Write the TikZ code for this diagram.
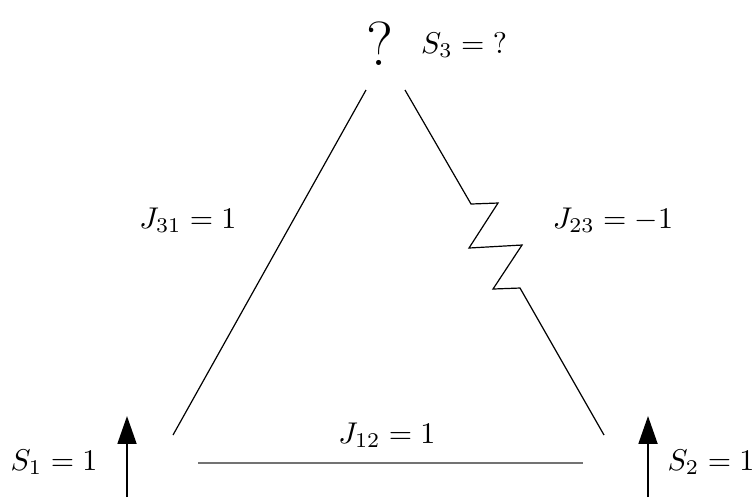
\documentclass[tikz,border=0pt]{standalone}
\usetikzlibrary{arrows.meta}
\begin{document}
\begin{tikzpicture}[x=0.33333pt,y=-0.33333pt,
  bond/.style={draw=black,line width=0.4pt},
  bondgray/.style={draw=black!55,line width=0.45pt},
  spin/.style={line width=0.7pt,-{Triangle[length=9.3pt,width=6.3pt]}},
  lab/.style={anchor=base,inner sep=0pt}]
\useasboundingbox (0,0) rectangle (756,497);
% spin labels
\node[lab] (q) at (380,65) {\huge ?};
\node[lab] (s3) at (464,53) {$S_3 = {?}$};
\node[lab] (s1) at (54,470) {$S_1 = 1$};
\node[lab] (s2) at (711,470) {$S_2 = 1$};
% coupling labels
\node[lab] (j31) at (188,228) {$J_{31} = 1$};
\node[lab] (j23) at (613,228) {$J_{23} = -1$};
\node[lab] (j12) at (387,443) {$J_{12} = 1$};
% bond end points
\coordinate (a1) at (173,435);
\coordinate (a3) at (366,90);
\coordinate (b3) at (405,90);
\coordinate (b2) at (604,435);
\coordinate (c1) at (198,463);
\coordinate (c2) at (583,463);
\coordinate (z1) at (471,204);
\coordinate (z2) at (498,203);
\coordinate (z3) at (469,248);
\coordinate (z4) at (522,245);
\coordinate (z5) at (493,289);
\coordinate (z6) at (520,288);
% bonds
\draw[bond] (a1) -- (a3);
\draw[bond] (b3) -- (z1) -- (z2) -- (z3) -- (z4) -- (z5) -- (z6) -- (b2);
\draw[bondgray] (c1) -- (c2);
% spins
\coordinate (u1b) at (127,497);
\coordinate (u1t) at (127,416);
\coordinate (u2b) at (648,497);
\coordinate (u2t) at (648,416);
\draw[spin] (u1b) -- (u1t);
\draw[spin] (u2b) -- (u2t);
\end{tikzpicture}
\end{document}
